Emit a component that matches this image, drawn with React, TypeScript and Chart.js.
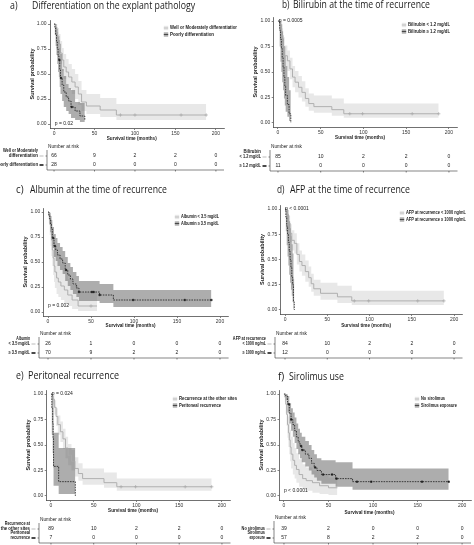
import React, { useEffect, useRef } from "react";
import { Chart, registerables } from "chart.js";
Chart.register(...registerables);

// ---------------- DATA ----------------
const X_TICKS = [0, 50, 100, 150, 200];
const Y_TICKS = [0, 0.25, 0.5, 0.75, 1];

// a) Differentiation
const A_WELL_T = [0, 2, 4, 6, 8, 10, 12, 15, 18, 22, 26, 30, 34, 40, 57, 77, 188];
const A_WELL_S = [1, 0.95, 0.88, 0.8, 0.71, 0.64, 0.57, 0.52, 0.47, 0.42, 0.37, 0.3, 0.22, 0.18, 0.14, 0.09, 0.09];
const A_WELL_LO = [1, 0.89, 0.8, 0.7, 0.6, 0.53, 0.45, 0.4, 0.35, 0.3, 0.25, 0.19, 0.13, 0.1, 0.07, 0.04, 0.04];
const A_WELL_HI = [1, 1, 0.96, 0.9, 0.83, 0.76, 0.7, 0.65, 0.6, 0.55, 0.5, 0.43, 0.34, 0.3, 0.26, 0.2, 0.2];
const A_WELL_CENS = [82, 100, 157, 188];
const A_WELL_RISK = [66, 9, 2, 2, 0];
const A_POOR_T = [0, 1, 2, 3, 4, 5, 6, 7, 8, 10, 12, 15, 18, 21, 26, 32, 38];
const A_POOR_S = [1, 0.96, 0.89, 0.82, 0.75, 0.68, 0.64, 0.54, 0.46, 0.39, 0.32, 0.27, 0.23, 0.17, 0.13, 0.08, 0.04];
const A_POOR_LO = [1, 0.89, 0.78, 0.69, 0.6, 0.52, 0.47, 0.37, 0.3, 0.23, 0.17, 0.13, 0.1, 0.06, 0.04, 0.02, 0.01];
const A_POOR_HI = [1, 1, 1, 0.97, 0.92, 0.87, 0.84, 0.76, 0.7, 0.55, 0.48, 0.4, 0.36, 0.34, 0.22, 0.21, 0.21];
const A_POOR_CENS = [6.6, 8.6, 21.8];
const A_POOR_RISK = [28, 0, 0, 0, 0];

// b) Bilirubin
const B_LOW_T = [0, 2, 4, 6, 8, 11, 14, 17, 20, 24, 28, 32, 36, 42, 63, 77, 188];
const B_LOW_S = [1, 0.95, 0.86, 0.75, 0.66, 0.61, 0.53, 0.45, 0.4, 0.35, 0.3, 0.24, 0.19, 0.16, 0.13, 0.09, 0.09];
const B_LOW_LO = [1, 0.9, 0.79, 0.66, 0.56, 0.51, 0.43, 0.35, 0.3, 0.25, 0.21, 0.16, 0.12, 0.1, 0.07, 0.05, 0.05];
const B_LOW_HI = [1, 0.99, 0.93, 0.84, 0.76, 0.71, 0.64, 0.56, 0.51, 0.46, 0.41, 0.34, 0.29, 0.27, 0.24, 0.19, 0.19];
const B_LOW_CENS = [84, 99, 157, 188];
const B_LOW_RISK = [85, 10, 2, 2, 0];
const B_HIGH_T = [0, 2, 3, 4, 5, 6, 7, 8, 9, 11, 13, 15];
const B_HIGH_S = [1, 0.91, 0.82, 0.73, 0.64, 0.55, 0.45, 0.36, 0.27, 0.18, 0.09, 0];
const B_HIGH_LO = [1, 0.75, 0.6, 0.5, 0.4, 0.32, 0.24, 0.17, 0.11, 0.06, 0.02, 0];
const B_HIGH_HI = [1, 1, 1, 0.97, 0.9, 0.83, 0.75, 0.66, 0.56, 0.45, 0.32, 0.32];
const B_HIGH_CENS: number[] = [];
const B_HIGH_RISK = [11, 0, 0, 0, 0];

// c) Albumin
const C_LOW_T = [0, 1, 2, 3, 4, 5, 6, 7, 8, 10, 12, 15, 19, 23, 28, 35, 57];
const C_LOW_S = [1, 0.96, 0.88, 0.8, 0.72, 0.62, 0.54, 0.46, 0.4, 0.34, 0.3, 0.26, 0.22, 0.17, 0.12, 0.06, 0.06];
const C_LOW_LO = [1, 0.89, 0.77, 0.66, 0.56, 0.46, 0.37, 0.3, 0.24, 0.18, 0.15, 0.12, 0.09, 0.06, 0.03, 0.01, 0.01];
const C_LOW_HI = [1, 1, 1, 0.96, 0.9, 0.83, 0.77, 0.7, 0.64, 0.58, 0.54, 0.48, 0.42, 0.33, 0.27, 0.2, 0.2];
const C_LOW_CENS = [50];
const C_LOW_RISK = [26, 1, 0, 0, 0];
const C_HIGH_T = [0, 1, 2, 3, 4, 5, 7, 9, 11, 14, 17, 20, 23, 26, 29, 33, 36, 60, 76, 190];
const C_HIGH_S = [1, 0.97, 0.93, 0.88, 0.83, 0.74, 0.66, 0.62, 0.57, 0.53, 0.49, 0.42, 0.37, 0.33, 0.28, 0.24, 0.2, 0.17, 0.12, 0.12];
const C_HIGH_LO = [1, 0.93, 0.87, 0.8, 0.74, 0.64, 0.55, 0.51, 0.46, 0.42, 0.38, 0.31, 0.26, 0.22, 0.18, 0.15, 0.11, 0.09, 0.05, 0.05];
const C_HIGH_HI = [1, 1, 0.99, 0.96, 0.92, 0.85, 0.78, 0.74, 0.69, 0.65, 0.61, 0.55, 0.49, 0.45, 0.4, 0.36, 0.31, 0.28, 0.22, 0.22];
const C_HIGH_CENS = [6, 8, 21, 36, 51, 53, 60, 99, 159, 190];
const C_HIGH_RISK = [70, 9, 2, 2, 0];

// d) AFP
const D_LOW_T = [0, 2, 4, 6, 8, 11, 14, 17, 20, 24, 28, 31, 34, 42, 62, 79, 188];
const D_LOW_S = [1, 0.95, 0.86, 0.76, 0.69, 0.66, 0.55, 0.48, 0.44, 0.38, 0.32, 0.26, 0.21, 0.165, 0.13, 0.09, 0.09];
const D_LOW_LO = [1, 0.9, 0.79, 0.67, 0.59, 0.56, 0.45, 0.38, 0.34, 0.28, 0.23, 0.18, 0.14, 0.1, 0.07, 0.05, 0.05];
const D_LOW_HI = [1, 0.99, 0.93, 0.85, 0.79, 0.76, 0.66, 0.59, 0.55, 0.49, 0.43, 0.36, 0.3, 0.27, 0.24, 0.19, 0.19];
const D_LOW_CENS = [82, 99, 157, 188];
const D_LOW_RISK = [84, 10, 2, 2, 0];
const D_HIGH_T = [0, 1, 2, 3, 4, 5, 6, 7, 8, 9, 10, 11];
const D_HIGH_S = [1, 0.92, 0.83, 0.75, 0.67, 0.58, 0.5, 0.42, 0.33, 0.25, 0.08, 0];
const D_HIGH_LO = [1, 0.78, 0.64, 0.53, 0.44, 0.35, 0.27, 0.2, 0.14, 0.08, 0.01, 0];
const D_HIGH_HI = [1, 1, 1, 0.99, 0.94, 0.88, 0.81, 0.73, 0.65, 0.56, 0.31, 0.31];
const D_HIGH_CENS: number[] = [];
const D_HIGH_RISK = [12, 0, 0, 0, 0];

// e) Peritoneal recurrence
const E_OTHER_T = [0, 2, 4, 6, 8, 11, 14, 17, 20, 24, 28, 32, 37, 62, 77, 188];
const E_OTHER_S = [1, 0.95, 0.87, 0.78, 0.7, 0.63, 0.56, 0.47, 0.4, 0.34, 0.27, 0.22, 0.17, 0.13, 0.09, 0.09];
const E_OTHER_LO = [1, 0.9, 0.8, 0.69, 0.6, 0.53, 0.46, 0.37, 0.3, 0.25, 0.19, 0.15, 0.11, 0.08, 0.05, 0.05];
const E_OTHER_HI = [1, 0.99, 0.94, 0.86, 0.79, 0.73, 0.66, 0.58, 0.51, 0.45, 0.38, 0.32, 0.27, 0.23, 0.17, 0.17];
const E_OTHER_CENS = [82, 99, 157, 188];
const E_OTHER_RISK = [89, 10, 2, 2, 0];
const E_PERI_T = [0, 1, 2, 2.5, 3, 9, 28.5];
const E_PERI_S = [1, 0.86, 0.71, 0.57, 0.29, 0.14, 0];
const E_PERI_LO = [1, 0.6, 0.42, 0.28, 0.1, 0.02, 0];
const E_PERI_HI = [1, 1, 1, 0.98, 0.62, 0.47, 0.47];
const E_PERI_CENS: number[] = [];
const E_PERI_RISK = [7, 0, 0, 0, 0];

// f) Sirolimus
const F_NO_T = [0, 1, 2, 3, 4, 5, 6, 7, 8, 10, 12, 14, 17, 21, 25, 32, 40, 50, 60];
const F_NO_S = [1, 0.97, 0.9, 0.8, 0.7, 0.62, 0.55, 0.48, 0.41, 0.35, 0.3, 0.26, 0.21, 0.17, 0.15, 0.13, 0.1, 0.08, 0.08];
const F_NO_LO = [1, 0.92, 0.81, 0.69, 0.57, 0.48, 0.41, 0.34, 0.27, 0.21, 0.17, 0.13, 0.09, 0.06, 0.05, 0.03, 0.02, 0.01, 0.01];
const F_NO_HI = [1, 1, 0.99, 0.93, 0.85, 0.78, 0.72, 0.65, 0.58, 0.52, 0.47, 0.42, 0.36, 0.31, 0.28, 0.25, 0.21, 0.18, 0.18];
const F_NO_CENS: number[] = [];
const F_NO_RISK = [39, 2, 0, 0, 0];
const F_SIRO_T = [0, 2, 4, 6, 8, 10, 12, 14, 16, 18, 20, 24, 28, 31, 34, 37, 42, 58, 77, 185];
const F_SIRO_S = [1, 0.98, 0.9, 0.81, 0.75, 0.7, 0.64, 0.58, 0.53, 0.49, 0.45, 0.41, 0.37, 0.32, 0.28, 0.25, 0.21, 0.17, 0.14, 0.14];
const F_SIRO_LO = [1, 0.94, 0.82, 0.71, 0.64, 0.58, 0.52, 0.46, 0.41, 0.37, 0.33, 0.29, 0.25, 0.21, 0.18, 0.15, 0.12, 0.09, 0.06, 0.06];
const F_SIRO_HI = [1, 1, 0.98, 0.91, 0.86, 0.82, 0.77, 0.71, 0.66, 0.62, 0.58, 0.54, 0.5, 0.45, 0.41, 0.37, 0.35, 0.33, 0.27, 0.27];
const F_SIRO_CENS = [5.6, 8.2, 19.3, 20.8, 35, 44, 54, 59, 82, 98, 155, 185];
const F_SIRO_RISK = [57, 8, 2, 2, 0];

// ---------------- STYLE ----------------
const TITLE_FONT = '"Open Sans", "Liberation Sans", Arial, sans-serif';
const SMALL_FONT = '"Liberation Sans", Arial, sans-serif';
const LIGHT_BAND = "rgba(190,190,190,0.36)";
const LIGHT_LINE = "#a9a9a9";
const DARK_BAND = "rgba(105,105,105,0.55)";
const DARK_LINE = "#1c1c1c";
const Y_AXIS_W = 14;
const X_AXIS_H = 10;

type Grp = { t: number[]; s: number[]; lo: number[]; hi: number[]; cens: number[]; risk: number[]; legend: string; row: string[] };
type PanelCfg = {
  key: string; letter: string; title: string; titleW: number; tGap: number; tx: number; ty: number;
  left: number; top: number; w: number; h: number;
  cl: number; cr: number; ct: number; cb: number;
  lx: number; ly: number;
  tableL: number; narY: number; rowY: number[]; xtY: number;
  pText: string; pT: number; pS: number;
  light: Grp; dark: Grp;
};

const g = (t: number[], s: number[], lo: number[], hi: number[], cens: number[], risk: number[], legend: string, row: string[]): Grp =>
  ({ t, s, lo, hi, cens, risk, legend, row });

const PANELS: PanelCfg[] = [
  {
    key: "a", letter: "a)", title: "Differentiation on the explant pathology", titleW: 163, tGap: 22, tx: 10, ty: 6,
    left: 0, top: 0, w: 237, h: 180, cl: 50, cr: 224, ct: 20, cb: 128,
    lx: 166, ly: 28, tableL: 47, narY: 147, rowY: [156, 165], xtY: 139,
    pText: "p = 0.02", pT: 1, pS: 0.0,
    light: g(A_WELL_T, A_WELL_S, A_WELL_LO, A_WELL_HI, A_WELL_CENS, A_WELL_RISK, "Well or Moderately differentiation", ["Well or Moderately", "differentiation"]),
    dark: g(A_POOR_T, A_POOR_S, A_POOR_LO, A_POOR_HI, A_POOR_CENS, A_POOR_RISK, "Poorly differentiation", ["Poorly differentiation"]),
  },
  {
    key: "b", letter: "b)", title: "Bilirubin at the time of recurrence", titleW: 137, tGap: 11, tx: 56, ty: 5,
    left: 226, top: 0, w: 248, h: 180, cl: 47.7, cr: 231.5, ct: 17, cb: 127,
    lx: 178, ly: 25, tableL: 44, narY: 147, rowY: [157, 166], xtY: 138,
    pText: "p = 0.0005", pT: 1, pS: 1.0,
    light: g(B_LOW_T, B_LOW_S, B_LOW_LO, B_LOW_HI, B_LOW_CENS, B_LOW_RISK, "Bilirubin < 1.2 mg/dL", ["Bilirubin", "< 1.2 mg/dL"]),
    dark: g(B_HIGH_T, B_HIGH_S, B_HIGH_LO, B_HIGH_HI, B_HIGH_CENS, B_HIGH_RISK, "Bilirubin ≥ 1.2 mg/dL", ["≥ 1.2 mg/dL"]),
  },
  {
    key: "c", letter: "c)", title: "Albumin at the time of recurrence", titleW: 137, tGap: 14, tx: 16, ty: 10,
    left: 0, top: 180, w: 240, h: 180, cl: 43.7, cr: 228.6, ct: 28, cb: 136,
    lx: 177, ly: 37, tableL: 39, narY: 154, rowY: [164, 173], xtY: 146,
    pText: "p = 0.002", pT: 0, pS: 0.06,
    light: g(C_LOW_T, C_LOW_S, C_LOW_LO, C_LOW_HI, C_LOW_CENS, C_LOW_RISK, "Albumin < 3.5 mg/dL", ["Albumin", "< 3.5 mg/dL"]),
    dark: g(C_HIGH_T, C_HIGH_S, C_HIGH_LO, C_HIGH_HI, C_HIGH_CENS, C_HIGH_RISK, "Albumin ≥ 3.5 mg/dL", ["≥ 3.5 mg/dL"]),
  },
  {
    key: "d", letter: "d)", title: "AFP at the time of recurrence", titleW: 120, tGap: 13, tx: 51, ty: 10,
    left: 226, top: 180, w: 248, h: 180, cl: 54.8, cr: 236.5, ct: 25, cb: 134,
    lx: 176, ly: 33, tableL: 49, narY: 154, rowY: [164, 173], xtY: 146,
    pText: "p < 0.0001", pT: 0, pS: 1.0,
    light: g(D_LOW_T, D_LOW_S, D_LOW_LO, D_LOW_HI, D_LOW_CENS, D_LOW_RISK, "AFP at recurrence < 1000 ng/mL", ["AFP at recurrence", "< 1000 ng/mL"]),
    dark: g(D_HIGH_T, D_HIGH_S, D_HIGH_LO, D_HIGH_HI, D_HIGH_CENS, D_HIGH_RISK, "AFP at recurrence ≥ 1000 ng/mL", ["≥ 1000 ng/mL"]),
  },
  {
    key: "e", letter: "e)", title: "Peritoneal recurrence", titleW: 91, tGap: 12, tx: 16, ty: 16,
    left: 0, top: 360, w: 237, h: 185, cl: 46.7, cr: 230.5, ct: 30, cb: 140,
    lx: 175, ly: 39, tableL: 39, narY: 160, rowY: [169, 178], xtY: 151,
    pText: "p = 0.024", pT: 1, pS: 1.0,
    light: g(E_OTHER_T, E_OTHER_S, E_OTHER_LO, E_OTHER_HI, E_OTHER_CENS, E_OTHER_RISK, "Recurrence at the other sites", ["Recurrence at", "the other sites"]),
    dark: g(E_PERI_T, E_PERI_S, E_PERI_LO, E_PERI_HI, E_PERI_CENS, E_PERI_RISK, "Peritoneal recurrence", ["Peritoneal", "recurrence"]),
  },
  {
    key: "f", letter: "f)", title: "Sirolimus use", titleW: 55, tGap: 11, tx: 52, ty: 17,
    left: 226, top: 360, w: 248, h: 185, cl: 53.5, cr: 245, ct: 30, cb: 140,
    lx: 191, ly: 39, tableL: 48, narY: 158, rowY: [169, 178], xtY: 153,
    pText: "p < 0.0001", pT: 0, pS: 0.05,
    light: g(F_NO_T, F_NO_S, F_NO_LO, F_NO_HI, F_NO_CENS, F_NO_RISK, "No sirolimus", ["No sirolimus"]),
    dark: g(F_SIRO_T, F_SIRO_S, F_SIRO_LO, F_SIRO_HI, F_SIRO_CENS, F_SIRO_RISK, "Sirolimus exposure", ["Sirolimus", "exposure"]),
  },
];

function stepAt(t: number[], s: number[], x: number) {
  let v = s[0];
  for (let i = 0; i < t.length; i++) if (t[i] <= x) v = s[i];
  return v;
}

// draws text left/center/right aligned (by ctx.textAlign), horizontally compressed to fit maxW
function fitText(ctx: CanvasRenderingContext2D, text: string, x: number, y: number, maxW: number) {
  const w = ctx.measureText(text).width;
  const sx = w > maxW ? maxW / w : 1;
  ctx.save();
  ctx.translate(x, y);
  ctx.scale(sx, 1);
  ctx.fillText(text, 0, 0);
  ctx.restore();
}

function makeChart(canvas: HTMLCanvasElement, p: PanelCfg) {
  const L = p.light;
  const D = p.dark;
  const pts = (t: number[], v: number[]) => t.map((x, i) => ({ x, y: v[i] }));
  const base = { stepped: "before", pointRadius: 0, pointHoverRadius: 0 };
  const datasets: any[] = [
    { ...base, data: pts(L.t, L.hi), borderColor: "rgba(0,0,0,0)", borderWidth: 0, backgroundColor: LIGHT_BAND, fill: "+1", order: 6 },
    { ...base, data: pts(L.t, L.lo), borderColor: "rgba(0,0,0,0)", borderWidth: 0, fill: false, order: 6 },
    { ...base, data: pts(D.t, D.hi), borderColor: "rgba(0,0,0,0)", borderWidth: 0, backgroundColor: DARK_BAND, fill: "+1", order: 5 },
    { ...base, data: pts(D.t, D.lo), borderColor: "rgba(0,0,0,0)", borderWidth: 0, fill: false, order: 5 },
    { ...base, data: pts(L.t, L.s), borderColor: LIGHT_LINE, borderWidth: 0.9, fill: false, order: 3 },
    { ...base, data: pts(D.t, D.s), borderColor: DARK_LINE, borderWidth: 0.8, borderDash: [1.6, 1], fill: false, order: 2 },
    {
      data: L.cens.map((c) => ({ x: c, y: stepAt(L.t, L.s, c) })), showLine: false,
      pointStyle: "cross", pointRadius: 1.7, pointHoverRadius: 0, borderColor: LIGHT_LINE, backgroundColor: LIGHT_LINE, pointBorderWidth: 0.7, order: 1,
    },
    {
      data: D.cens.map((c) => ({ x: c, y: stepAt(D.t, D.s, c) })), showLine: false,
      pointStyle: "rect", pointRadius: 1.1, pointHoverRadius: 0, borderColor: DARK_LINE, backgroundColor: DARK_LINE, pointBorderWidth: 0.5, order: 0,
    },
  ];

  const plugin = {
    id: "kmtext" + p.key,
    afterDraw(chart: any) {
      const ctx = chart.ctx as CanvasRenderingContext2D;
      const xs = chart.scales.x;
      const ys = chart.scales.y;
      const ca = chart.chartArea;
      ctx.save();
      ctx.fillStyle = "#1a1a1a";
      ctx.textBaseline = "middle";
      ctx.textAlign = "left";
      // title
      ctx.font = `10px ${TITLE_FONT}`;
      fitText(ctx, p.letter, p.tx, p.ty, 7.5);
      fitText(ctx, p.title, p.tx + p.tGap, p.ty, p.titleW);
      // axis titles
      ctx.font = `bold 5.5px ${SMALL_FONT}`;
      ctx.save();
      ctx.translate(ca.left - 18, (ca.top + ca.bottom) / 2);
      ctx.rotate(-Math.PI / 2);
      ctx.textAlign = "center";
      fitText(ctx, "Survival probability", 0, 0, 53);
      ctx.restore();
      ctx.font = `bold 5.2px ${SMALL_FONT}`;
      ctx.textAlign = "center";
      fitText(ctx, "Survival time (months)", xs.getPixelForValue(96), p.xtY, 50);
      // p value
      ctx.font = `5px ${SMALL_FONT}`;
      ctx.textAlign = "left";
      ctx.fillText(p.pText, xs.getPixelForValue(p.pT), ys.getPixelForValue(p.pS));
      // legend
      const groups = [
        { grp: L, band: LIGHT_BAND, line: LIGHT_LINE },
        { grp: D, band: DARK_BAND, line: DARK_LINE },
      ];
      groups.forEach((G, i) => {
        const y = p.ly + i * 6.5;
        ctx.fillStyle = G.band;
        ctx.fillRect(p.lx - 2.2, y - 2.2, 4.4, 4.4);
        ctx.strokeStyle = G.line;
        ctx.lineWidth = 0.7;
        ctx.beginPath();
        ctx.moveTo(p.lx - 2.2, y);
        ctx.lineTo(p.lx + 2.2, y);
        ctx.stroke();
        ctx.fillStyle = "#1a1a1a";
        ctx.font = `bold 4.6px ${SMALL_FONT}`;
        ctx.textAlign = "left";
        fitText(ctx, G.grp.legend, p.lx + 4, y, G.grp.legend.length * 2.0);
      });
      // risk table
      ctx.font = `5px ${SMALL_FONT}`;
      ctx.textAlign = "left";
      fitText(ctx, "Number at risk", p.tableL + 1, p.narY, 31);
      const bottomY = p.rowY[1] + 5;
      ctx.strokeStyle = "#333";
      ctx.lineWidth = 0.6;
      ctx.beginPath();
      ctx.moveTo(p.tableL, p.narY + 3);
      ctx.lineTo(p.tableL, bottomY);
      ctx.lineTo(ca.right, bottomY);
      X_TICKS.forEach((v) => {
        const x = xs.getPixelForValue(v);
        ctx.moveTo(x, bottomY);
        ctx.lineTo(x, bottomY + 1.5);
      });
      p.rowY.forEach((y) => {
        ctx.moveTo(p.tableL - 1.5, y);
        ctx.lineTo(p.tableL, y);
      });
      ctx.stroke();
      groups.forEach((G, j) => {
        const y = p.rowY[j];
        ctx.fillStyle = "#1a1a1a";
        ctx.font = `5px ${SMALL_FONT}`;
        ctx.textAlign = "center";
        G.grp.risk.forEach((n, i) => {
          ctx.fillText(String(n), xs.getPixelForValue(X_TICKS[i]), y);
        });
        ctx.font = `bold 4.6px ${SMALL_FONT}`;
        ctx.textAlign = "right";
        const rows = G.grp.row;
        rows.forEach((txt, k) => {
          fitText(ctx, txt, p.tableL - 9, y - (rows.length - 1 - k) * 5.5, txt.length * 1.95);
        });
        ctx.strokeStyle = G.line;
        ctx.lineWidth = j === 0 ? 0.8 : 1.6;
        ctx.beginPath();
        ctx.moveTo(p.tableL - 7.5, y);
        ctx.lineTo(p.tableL - 3.5, y);
        ctx.stroke();
      });
      ctx.restore();
    },
  };

  return new Chart(canvas, {
    type: "line",
    data: { datasets },
    plugins: [plugin],
    options: {
      animation: false,
      responsive: false,
      devicePixelRatio: 1,
      events: [],
      layout: {
        padding: { left: p.cl - Y_AXIS_W, right: p.w - p.cr, top: p.ct, bottom: p.h - p.cb - X_AXIS_H },
      },
      plugins: { legend: { display: false }, tooltip: { enabled: false }, title: { display: false } },
      scales: {
        x: {
          type: "linear", min: -5, max: 210,
          afterBuildTicks: (s: any) => { s.ticks = X_TICKS.map((value) => ({ value })); },
          afterFit: (s: any) => { s.height = X_AXIS_H; },
          ticks: { font: { size: 5, family: SMALL_FONT }, color: "#333", padding: 1, maxRotation: 0, autoSkip: false },
          grid: { drawOnChartArea: false, tickLength: 2, color: "#333", lineWidth: 0.6 },
          border: { color: "#333", width: 0.7 },
        },
        y: {
          type: "linear", min: -0.04, max: 1.04,
          afterBuildTicks: (s: any) => { s.ticks = Y_TICKS.map((value) => ({ value })); },
          afterFit: (s: any) => { s.width = Y_AXIS_W; },
          ticks: { font: { size: 5, family: SMALL_FONT }, color: "#333", padding: 1.5, autoSkip: false, callback: (v: any) => Number(v).toFixed(2) },
          grid: { drawOnChartArea: false, tickLength: 2, color: "#333", lineWidth: 0.6 },
          border: { color: "#333", width: 0.7 },
        },
      },
    } as any,
  });
}

function Panel({ cfg }: { cfg: PanelCfg }) {
  const ref = useRef<HTMLCanvasElement>(null);
  useEffect(() => {
    const chart = makeChart(ref.current as HTMLCanvasElement, cfg);
    return () => chart.destroy();
  }, [cfg]);
  return (
    <canvas
      ref={ref}
      width={cfg.w}
      height={cfg.h}
      style={{ position: "absolute", left: cfg.left, top: cfg.top, width: cfg.w, height: cfg.h }}
    />
  );
}

export default function App() {
  return (
    <div style={{ position: "absolute", left: 0, top: 0, width: 474, height: 545, background: "#fff", overflow: "hidden" }}>
      {PANELS.map((p) => (
        <Panel key={p.key} cfg={p} />
      ))}
    </div>
  );
}
